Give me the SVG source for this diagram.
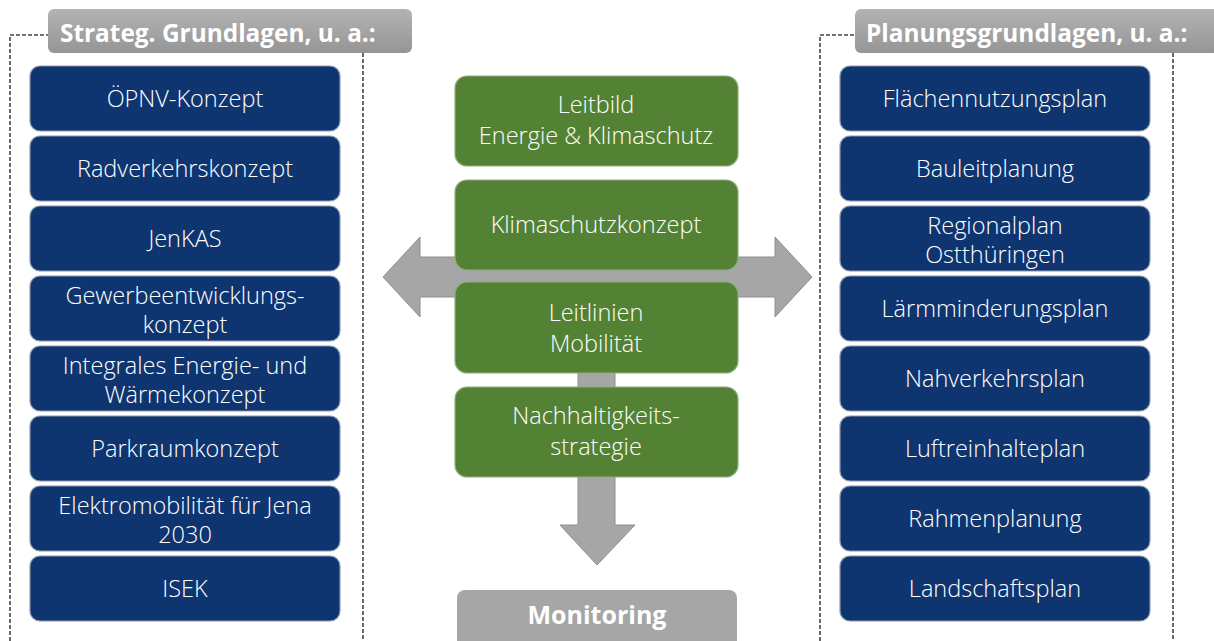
<svg xmlns="http://www.w3.org/2000/svg" width="1214" height="641" viewBox="0 0 1214 641">
<defs>
<linearGradient id="hdr" x1="0" y1="0" x2="0" y2="1">
<stop offset="0" stop-color="#b3b3b3"/>
<stop offset="1" stop-color="#959595"/>
</linearGradient>
</defs>
<style>
.blue{fill:#0f3571;stroke:#8c9ab0;stroke-width:1.2}
.green{fill:#548235;stroke:#8fae7a;stroke-width:1.2}
.hdr{fill:url(#hdr)}
.dash{fill:none;stroke:#444;stroke-width:1.6;stroke-dasharray:4 2}
.arrow{fill:#a6a6a6;stroke:#8f8f8f;stroke-width:1}
.t{font-family:"Open Sans","Noto Sans",sans-serif;font-size:23.5px;font-weight:300;fill:#fff;text-anchor:middle}
.h{font-family:"Open Sans","Noto Sans",sans-serif;font-size:24.4px;font-weight:bold;fill:#fff}
.m{font-family:"Open Sans","Noto Sans",sans-serif;font-size:25px;font-weight:bold;fill:#fff;text-anchor:middle}
</style>
<rect width="1214" height="641" fill="#fff"/>
<g id="frames">
<path class="dash" d="M10,641 V35 H48"/>
<path class="dash" d="M363,53 V641"/>
<path class="dash" d="M820,641 V35 H855"/>
<path class="dash" d="M1173,53 V641"/>
</g>
<g id="connectors">
<polygon class="arrow" points="383,277 420,237 420,257 775,257 775,237 812,277 775,317 775,297 420,297 420,317"/>
<polygon class="arrow" points="578,370 615,370 615,525 635,525 597,565 560,525 578,525"/>
</g>
<g id="hdr-left"><rect class="hdr" x="48" y="9" width="364" height="44" rx="6"/><text class="h" x="60" y="42">Strateg. Grundlagen, u. a.:</text></g>
<g id="hdr-right"><rect class="hdr" x="855" y="9" width="370" height="44" rx="6"/><text class="h" x="866" y="42">Planungsgrundlagen, u. a.:</text></g>
<g id="l1"><rect class="blue" x="30" y="66" width="310" height="65" rx="10"/><text class="t" x="185" y="107">ÖPNV-Konzept</text></g>
<g id="l2"><rect class="blue" x="30" y="136" width="310" height="65" rx="10"/><text class="t" x="185" y="177">Radverkehrskonzept</text></g>
<g id="l3"><rect class="blue" x="30" y="206" width="310" height="65" rx="10"/><text class="t" x="185" y="247">JenKAS</text></g>
<g id="l4"><rect class="blue" x="30" y="276" width="310" height="65" rx="10"/><text class="t" x="185" y="304">Gewerbeentwicklungs-</text><text class="t" x="185" y="333">konzept</text></g>
<g id="l5"><rect class="blue" x="30" y="346" width="310" height="65" rx="10"/><text class="t" x="185" y="374">Integrales Energie- und</text><text class="t" x="185" y="403">Wärmekonzept</text></g>
<g id="l6"><rect class="blue" x="30" y="416" width="310" height="65" rx="10"/><text class="t" x="185" y="457">Parkraumkonzept</text></g>
<g id="l7"><rect class="blue" x="30" y="486" width="310" height="65" rx="10"/><text class="t" x="185" y="514">Elektromobilität für Jena</text><text class="t" x="185" y="543">2030</text></g>
<g id="l8"><rect class="blue" x="30" y="556" width="310" height="65" rx="10"/><text class="t" x="185" y="597">ISEK</text></g>
<g id="r1"><rect class="blue" x="840" y="66" width="310" height="65" rx="10"/><text class="t" x="995" y="107">Flächennutzungsplan</text></g>
<g id="r2"><rect class="blue" x="840" y="136" width="310" height="65" rx="10"/><text class="t" x="995" y="177">Bauleitplanung</text></g>
<g id="r3"><rect class="blue" x="840" y="206" width="310" height="65" rx="10"/><text class="t" x="995" y="234">Regionalplan</text><text class="t" x="995" y="263">Ostthüringen</text></g>
<g id="r4"><rect class="blue" x="840" y="276" width="310" height="65" rx="10"/><text class="t" x="995" y="317">Lärmminderungsplan</text></g>
<g id="r5"><rect class="blue" x="840" y="346" width="310" height="65" rx="10"/><text class="t" x="995" y="387">Nahverkehrsplan</text></g>
<g id="r6"><rect class="blue" x="840" y="416" width="310" height="65" rx="10"/><text class="t" x="995" y="457">Luftreinhalteplan</text></g>
<g id="r7"><rect class="blue" x="840" y="486" width="310" height="65" rx="10"/><text class="t" x="995" y="527">Rahmenplanung</text></g>
<g id="r8"><rect class="blue" x="840" y="556" width="310" height="65" rx="10"/><text class="t" x="995" y="597">Landschaftsplan</text></g>
<g id="g1"><rect class="green" x="455" y="76" width="283" height="90" rx="12"/><text class="t" x="596" y="113">Leitbild</text><text class="t" x="596" y="144">Energie &amp; Klimaschutz</text></g>
<g id="g2"><rect class="green" x="455" y="180" width="283" height="90" rx="12"/><text class="t" x="596" y="233">Klimaschutzkonzept</text></g>
<g id="g3"><rect class="green" x="455" y="282" width="283" height="91" rx="12"/><text class="t" x="596" y="321">Leitlinien</text><text class="t" x="596" y="352">Mobilität</text></g>
<g id="g4"><rect class="green" x="455" y="387" width="283" height="90" rx="12"/><text class="t" x="596" y="424">Nachhaltigkeits-</text><text class="t" x="596" y="455">strategie</text></g>
<g id="monitoring"><rect x="457" y="590" width="280" height="60" rx="8" fill="#a6a6a6"/><text class="m" x="597" y="624">Monitoring</text></g>
</svg>
